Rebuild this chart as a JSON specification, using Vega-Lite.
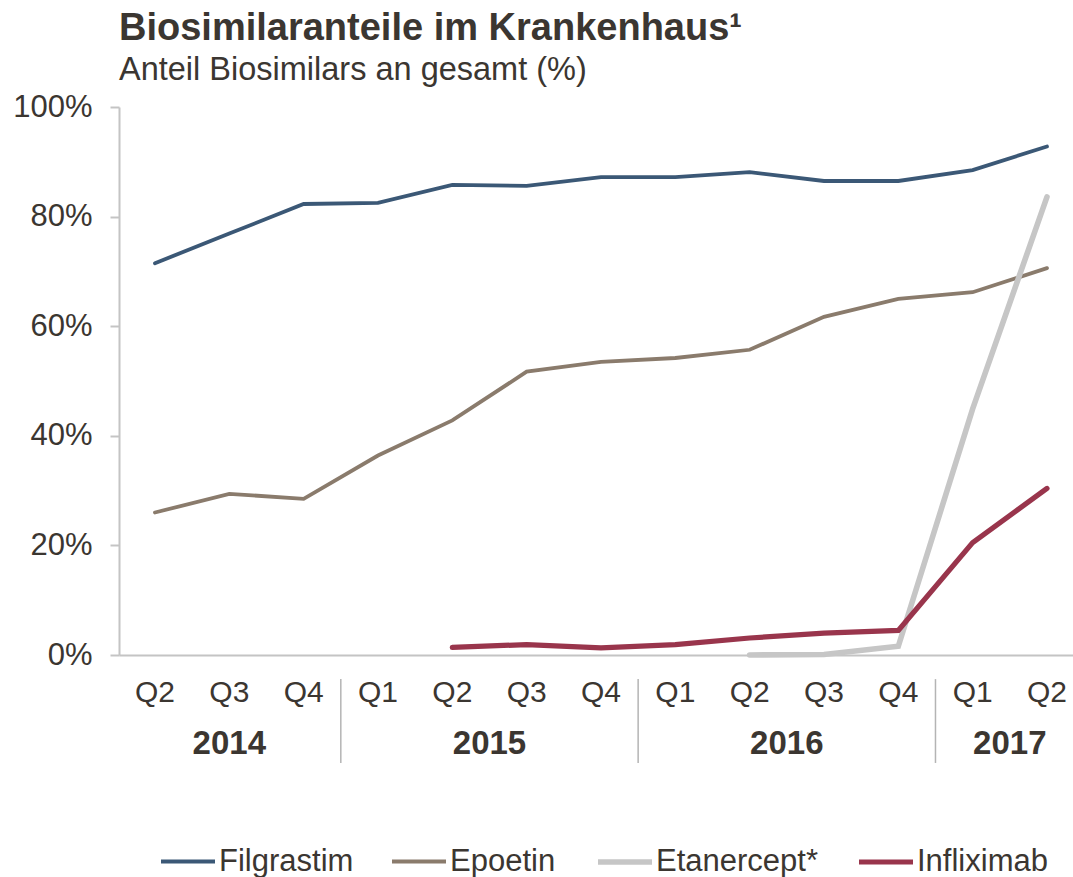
{
  "$schema": "https://vega.github.io/schema/vega-lite/v6.json",
  "autosize": {"type": "none"},
  "width": 954,
  "height": 548,
  "padding": {"left": 119, "top": 107, "right": 0, "bottom": 222},
  "background": "white",
  "config": {
    "font": "Liberation Sans",
    "view": {"stroke": null},
    "text": {"font": "Liberation Sans", "color": "#3b3631"}
  },
  "title": {
    "text": "Biosimilaranteile im Krankenhaus¹",
    "subtitle": "Anteil Biosimilars an gesamt (%)",
    "anchor": "start",
    "frame": "group",
    "font": "Liberation Sans",
    "fontSize": 38,
    "fontWeight": "bold",
    "color": "#3b3631",
    "subtitleFont": "Liberation Sans",
    "subtitleFontSize": 32.5,
    "subtitleColor": "#3b3631",
    "subtitlePadding": 6,
    "offset": 5
  },
  "data": {
    "values": [
      {"series": "Filgrastim", "t": 0, "year": "2014", "q": "Q2", "v": 71.5},
      {"series": "Filgrastim", "t": 1, "year": "2014", "q": "Q3", "v": 76.9},
      {"series": "Filgrastim", "t": 2, "year": "2014", "q": "Q4", "v": 82.3},
      {"series": "Filgrastim", "t": 3, "year": "2015", "q": "Q1", "v": 82.5},
      {"series": "Filgrastim", "t": 4, "year": "2015", "q": "Q2", "v": 85.8},
      {"series": "Filgrastim", "t": 5, "year": "2015", "q": "Q3", "v": 85.6},
      {"series": "Filgrastim", "t": 6, "year": "2015", "q": "Q4", "v": 87.2},
      {"series": "Filgrastim", "t": 7, "year": "2016", "q": "Q1", "v": 87.2},
      {"series": "Filgrastim", "t": 8, "year": "2016", "q": "Q2", "v": 88.1},
      {"series": "Filgrastim", "t": 9, "year": "2016", "q": "Q3", "v": 86.5},
      {"series": "Filgrastim", "t": 10, "year": "2016", "q": "Q4", "v": 86.5},
      {"series": "Filgrastim", "t": 11, "year": "2017", "q": "Q1", "v": 88.5},
      {"series": "Filgrastim", "t": 12, "year": "2017", "q": "Q2", "v": 92.8},
      {"series": "Epoetin", "t": 0, "year": "2014", "q": "Q2", "v": 26.0},
      {"series": "Epoetin", "t": 1, "year": "2014", "q": "Q3", "v": 29.4},
      {"series": "Epoetin", "t": 2, "year": "2014", "q": "Q4", "v": 28.5},
      {"series": "Epoetin", "t": 3, "year": "2015", "q": "Q1", "v": 36.4},
      {"series": "Epoetin", "t": 4, "year": "2015", "q": "Q2", "v": 42.8},
      {"series": "Epoetin", "t": 5, "year": "2015", "q": "Q3", "v": 51.7},
      {"series": "Epoetin", "t": 6, "year": "2015", "q": "Q4", "v": 53.5},
      {"series": "Epoetin", "t": 7, "year": "2016", "q": "Q1", "v": 54.2},
      {"series": "Epoetin", "t": 8, "year": "2016", "q": "Q2", "v": 55.7},
      {"series": "Epoetin", "t": 9, "year": "2016", "q": "Q3", "v": 61.7},
      {"series": "Epoetin", "t": 10, "year": "2016", "q": "Q4", "v": 65.0},
      {"series": "Epoetin", "t": 11, "year": "2017", "q": "Q1", "v": 66.2},
      {"series": "Epoetin", "t": 12, "year": "2017", "q": "Q2", "v": 70.6},
      {"series": "Etanercept*", "t": 8, "year": "2016", "q": "Q2", "v": 0.0},
      {"series": "Etanercept*", "t": 9, "year": "2016", "q": "Q3", "v": 0.1},
      {"series": "Etanercept*", "t": 10, "year": "2016", "q": "Q4", "v": 1.6},
      {"series": "Etanercept*", "t": 11, "year": "2017", "q": "Q1", "v": 44.9},
      {"series": "Etanercept*", "t": 12, "year": "2017", "q": "Q2", "v": 83.6},
      {"series": "Infliximab", "t": 4, "year": "2015", "q": "Q2", "v": 1.4},
      {"series": "Infliximab", "t": 5, "year": "2015", "q": "Q3", "v": 1.9},
      {"series": "Infliximab", "t": 6, "year": "2015", "q": "Q4", "v": 1.3},
      {"series": "Infliximab", "t": 7, "year": "2016", "q": "Q1", "v": 1.9},
      {"series": "Infliximab", "t": 8, "year": "2016", "q": "Q2", "v": 3.1},
      {"series": "Infliximab", "t": 9, "year": "2016", "q": "Q3", "v": 4.0},
      {"series": "Infliximab", "t": 10, "year": "2016", "q": "Q4", "v": 4.5},
      {"series": "Infliximab", "t": 11, "year": "2017", "q": "Q1", "v": 20.5},
      {"series": "Infliximab", "t": 12, "year": "2017", "q": "Q2", "v": 30.4}
    ]
  },
  "layer": [
    {
      "mark": {"type": "line", "strokeCap": "round", "strokeJoin": "miter", "clip": false},
      "encoding": {
        "x": {
          "field": "t", "type": "quantitative",
          "scale": {"domain": [-0.484, 12.35], "nice": false, "zero": false},
          "axis": {"title": null, "labels": false, "ticks": false, "grid": false, "domainColor": "#c4c4c4", "domainWidth": 2}
        },
        "y": {
          "field": "v", "type": "quantitative",
          "scale": {"domain": [0, 100], "nice": false},
          "axis": {
            "title": null, "values": [0, 20, 40, 60, 80, 100], "grid": false,
            "labelExpr": "datum.value + '%'",
            "labelFont": "Liberation Sans", "labelFontSize": 31, "labelColor": "#3b3631",
            "labelPadding": 18, "tickSize": 9, "tickColor": "#c4c4c4", "tickWidth": 2,
            "domainColor": "#c4c4c4", "domainWidth": 2
          }
        },
        "color": {
          "field": "series", "type": "nominal",
          "scale": {"domain": ["Filgrastim", "Epoetin", "Etanercept*", "Infliximab"], "range": ["#3b5876", "#8a7b6c", "#c6c6c6", "#99354c"]},
          "legend": {
            "title": null, "orient": "none", "legendX": 39, "legendY": 725,
            "direction": "horizontal", "columns": 4, "columnPadding": 30,
            "symbolType": "stroke", "symbolSize": 2916, "symbolStrokeWidth": 4.5,
            "labelFont": "Liberation Sans", "labelFontSize": 31, "labelColor": "#3b3631",
            "labelOffset": 1, "labelLimit": 400
          }
        },
        "strokeWidth": {
          "field": "series", "type": "nominal",
          "scale": {"type": "ordinal", "domain": ["Filgrastim", "Epoetin", "Etanercept*", "Infliximab"], "range": [3.8, 3.8, 5.6, 5.2]},
          "legend": null
        }
      }
    },
    {
      "transform": [{"filter": "datum.series === 'Filgrastim'"}],
      "mark": {"type": "text", "fontSize": 30, "baseline": "middle", "align": "center", "color": "#3b3631"},
      "encoding": {
        "x": {"field": "t", "type": "quantitative"},
        "y": {"datum": -7},
        "text": {"field": "q"}
      }
    },
    {
      "transform": [
        {"filter": "datum.series === 'Filgrastim'"},
        {"aggregate": [{"op": "mean", "field": "t", "as": "mid"}], "groupby": ["year"]}
      ],
      "mark": {"type": "text", "fontSize": 33, "fontWeight": "bold", "baseline": "middle", "align": "center", "color": "#3b3631"},
      "encoding": {
        "x": {"field": "mid", "type": "quantitative"},
        "y": {"datum": -16.2},
        "text": {"field": "year"}
      }
    },
    {
      "transform": [
        {"filter": "datum.series === 'Filgrastim'"},
        {"aggregate": [{"op": "min", "field": "t", "as": "first"}], "groupby": ["year"]},
        {"filter": "datum.year !== '2014'"},
        {"calculate": "datum.first - 0.5", "as": "boundary"}
      ],
      "mark": {"type": "rule", "color": "#b4b4b4", "strokeWidth": 1.5},
      "encoding": {
        "x": {"field": "boundary", "type": "quantitative"},
        "y": {"datum": -4.4},
        "y2": {"datum": -19.7}
      }
    }
  ]
}
